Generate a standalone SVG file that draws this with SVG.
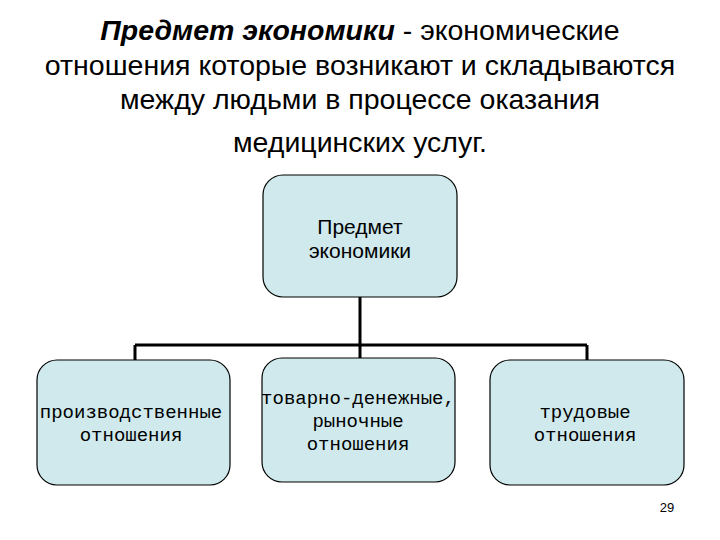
<svg xmlns="http://www.w3.org/2000/svg" width="720" height="540" viewBox="0 0 720 540">
<style>
.t{font-family:"Liberation Sans",Arial,sans-serif;font-size:28.5px;fill:#000;text-anchor:middle}
.box{fill:#cfe9ec;stroke:#000;stroke-width:1.2}
.s{font-family:"Liberation Sans",Arial,sans-serif;font-size:21px;text-anchor:middle}
.b{font-family:"Liberation Mono","Courier New",monospace;font-size:19px;text-anchor:middle}
.c{stroke:#000;stroke-width:3;fill:none}
</style>
<rect width="720" height="540" fill="#fff"/>
<text class="t" x="360" y="40"><tspan font-weight="bold" font-style="italic">Предмет экономики</tspan> - экономические</text>
<text class="t" x="360" y="75">отношения которые возникают и складываются</text>
<text class="t" x="360" y="109">между людьми в процессе оказания</text>
<text class="t" x="360" y="152">медицинских услуг.</text>
<g id="connectors">
<path class="c" d="M360 297V345M135 345H587M135 345V360M360 345V358M587 345V360"/>
</g>
<g id="top"><rect class="box" x="263" y="175" width="194" height="122" rx="20"/>
<text class="s" x="360" y="234">Предмет</text><text class="s" x="360" y="258">экономики</text></g>
<g id="n1"><rect class="box" x="37" y="360" width="193" height="125" rx="20"/>
<text class="b" x="131" y="418">производственные</text><text class="b" x="131" y="441">отношения</text></g>
<g id="n2"><rect class="box" x="262" y="358" width="193" height="124" rx="20"/>
<text class="b" x="358" y="404">товарно-денежные,</text><text class="b" x="358" y="427">рыночные</text><text class="b" x="358" y="450">отношения</text></g>
<g id="n3"><rect class="box" x="490" y="360" width="194" height="125" rx="20"/>
<text class="b" x="585" y="418">трудовые</text><text class="b" x="585" y="441">отношения</text></g>
<text x="667" y="512" font-family="Liberation Sans,Arial,sans-serif" font-size="13" text-anchor="middle">29</text>
</svg>
